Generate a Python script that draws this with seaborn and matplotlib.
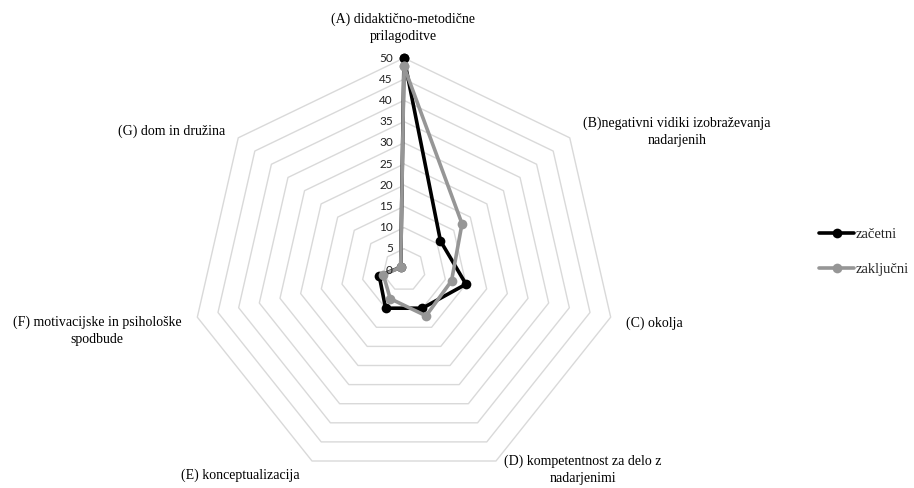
import numpy as np
import pandas as pd
import matplotlib
matplotlib.use("Agg")
import matplotlib.pyplot as plt
import matplotlib.transforms as mtransforms
from matplotlib.lines import Line2D
import seaborn as sns

# ---- data ----
categories = [
    "(A) didaktično-metodične\nprilagoditve",
    "(B)negativni vidiki izobraževanja\nnadarjenih",
    "(C) okolja",
    "(D) kompetentnost za delo z\nnadarjenimi",
    "(E) konceptualizacija",
    "(F) motivacijske in psihološke\nspodbude",
    "(G) dom in družina",
]
series_names = ["začetni", "zaključni"]
zacetni = [50, 11, 15, 10, 10, 6, 1]
zakljucni = [48, 17.5, 11.5, 12, 7.5, 5, 1]
ticks = [0, 5, 10, 15, 20, 25, 30, 35, 40, 45, 50]

colors = {"začetni": "#000000", "zaključni": "#969696"}

sns.set_theme(style="white")
plt.rcParams["font.family"] = ["Liberation Serif", "DejaVu Serif"]

W, H = 914, 488
fig = plt.figure(figsize=(W / 100, H / 100), dpi=100)

cx, cy, R = 404, 270, 212
ax = fig.add_axes([(cx - R) / W, (H - cy - R) / H, 2 * R / W, 2 * R / H],
                  projection="polar")
ax.set_theta_offset(np.pi / 2)
ax.set_theta_direction(-1)
ax.set_ylim(0, 50)
ax.grid(False)
ax.spines["polar"].set_visible(False)
ax.patch.set_alpha(0)

n = len(categories)
angles = np.arange(n) * 2 * np.pi / n
angles_closed = np.append(angles, 2 * np.pi)

# heptagon grid
for r in ticks[1:]:
    ax.plot(angles_closed, [r] * (n + 1), color="#d9d9d9", lw=1.0, zorder=1)

# data
rows = []
for name, vals in zip(series_names, [zacetni, zakljucni]):
    vv = list(vals) + [vals[0]]
    for t, v in zip(angles_closed, vv):
        rows.append({"theta": t, "value": v, "series": name})
df = pd.DataFrame(rows)

sns.lineplot(data=df, x="theta", y="value", hue="series", hue_order=series_names,
             palette=colors, sort=False, estimator=None, marker="o",
             markersize=7, markeredgewidth=0, linewidth=2.6, ax=ax, legend=False,
             zorder=3)
for ln in ax.lines:
    ln.set_clip_on(False)
ax.set_xlabel("")
ax.set_ylabel("")
ax.set_xticks([])
ax.set_yticks([])
ax.set_ylim(0, 50)
ax.set_xlim(0, 2 * np.pi)

# tick labels along axis A
off = mtransforms.offset_copy(ax.transData, fig=fig, x=-11, y=0, units="dots")
for t in ticks:
    ax.text(0, t, str(t), transform=off, ha="right", va="center",
            fontsize=8.5, family=["Lato", "DejaVu Sans"], color="#222222")

# category labels (pixel positions)
def ft(x, y, s, ha="center"):
    fig.text(x / W, 1 - y / H, s, ha=ha, va="center", ma="center",
             fontsize=10, color="#000000", linespacing=1.35)

ft(403, 28, categories[0])
ft(677, 132, categories[1])
ft(626, 323, categories[2], ha="left")
ft(583, 470, categories[3])
ft(240, 475, categories[4])
ft(97, 331, categories[5])
ft(172, 131, categories[6])

handles = [Line2D([], [], color=colors[s], lw=2.6, marker="o", markersize=7,
                  markeredgewidth=0) for s in series_names]
fig.legend(handles, series_names, loc="center left",
           bbox_to_anchor=(806 / W, 1 - 252 / H), frameon=False,
           fontsize=10.5, handlelength=2.4, handletextpad=0.1, labelspacing=1.45)

fig.savefig("out.png", dpi=100)
